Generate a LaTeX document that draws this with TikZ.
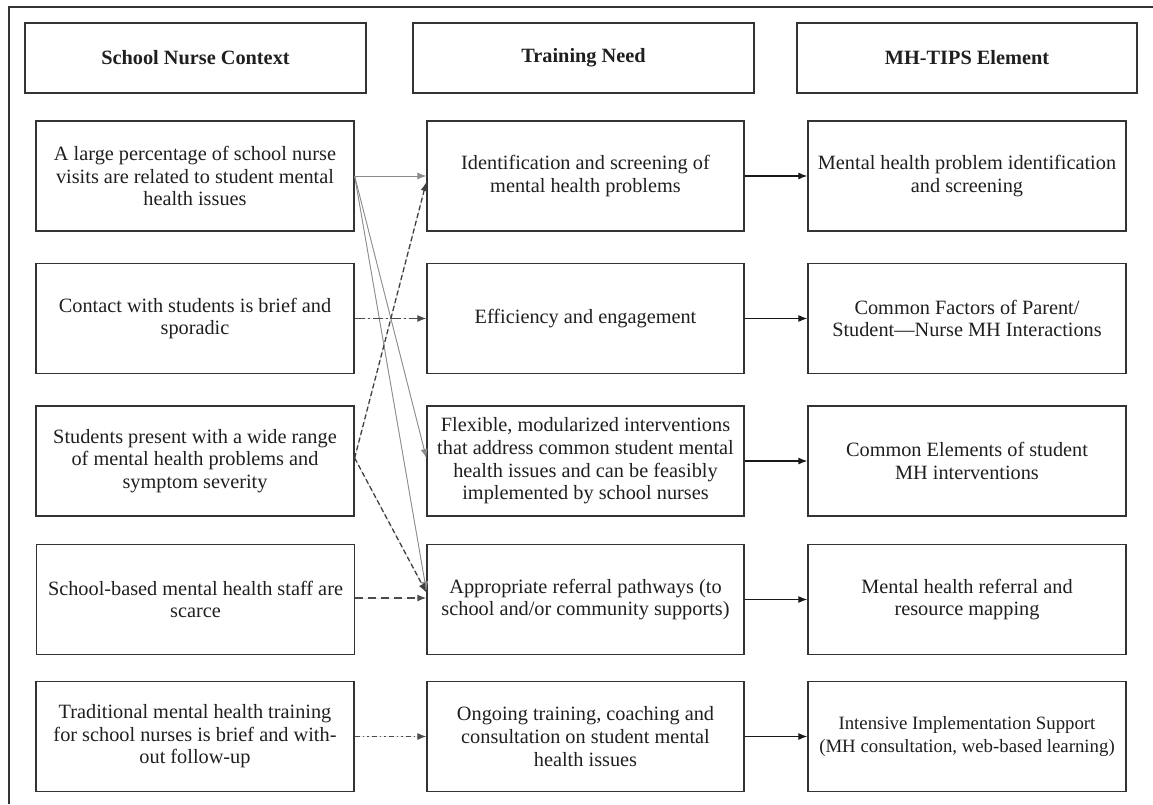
\documentclass[tikz,border=0pt]{standalone}
\usepackage{fontspec}
\setmainfont{Liberation Serif}
\usetikzlibrary{arrows.meta}
\begin{document}
\begin{tikzpicture}[x=1pt,y=-1pt,
  box/.style={draw=black!80, line width=1.3pt, align=center, inner sep=0pt,
    font=\fontsize{20.3}{22.6}\selectfont, text=black!88},
  hdr/.style={box, minimum width=341pt, minimum height=70pt,
    font=\fontsize{20.3}{22.6}\selectfont\bfseries},
  cell/.style={box, minimum width=318pt, minimum height=110pt},
  tip/.style={-{Latex[length=9pt,width=7pt]}},
  solidarr/.style={tip, line width=1.2pt, draw=black!90, fill=black!90},
  grayarr/.style={tip, line width=0.9pt, draw=black!45, fill=black!45},
  dasharr/.style={tip, line width=1.3pt, draw=black!75, fill=black!75, dash pattern=on 5pt off 3pt},
  longdasharr/.style={tip, line width=1.4pt, draw=black!70, fill=black!70, dash pattern=on 8pt off 5pt},
  dotdasharr/.style={tip, line width=1.2pt, draw=black!70, fill=black!70, dash pattern=on 10pt off 3pt on 2pt off 3pt},
  dotdotarr/.style={tip, line width=1.1pt, draw=black!70, fill=black!70, dash pattern=on 5pt off 3pt on 1.5pt off 3pt on 1.5pt off 3pt},
  frame/.style={line width=1.2pt, draw=black!80}
]
\useasboundingbox (0,0) rectangle (1153,804);
\draw[frame] (1153,7) -- (9,7) -- (9,804);

% headers
\node[hdr] (hL) at (195.5,58) {School Nurse Context};
\node[hdr] (hM) at (583.5,58) {Training Need};
\node[hdr, minimum width=340pt] (hR) at (967,58) {MH-TIPS Element};

% left column
\node[cell] (L1) at (195,176) {A large percentage of school nurse\\visits are related to student mental\\health issues};
\node[cell] (L2) at (195,318.5) {Contact with students is brief and\\sporadic};
\node[cell] (L3) at (195,461) {Students present with a wide range\\of mental health problems and\\symptom severity};
\node[cell] (L4) at (195.5,599.5) {School-based mental health staff are\\scarce};
\node[cell] (L5) at (195,736.5) {Traditional mental health training\\for school nurses is brief and with-\\out follow-up};

% middle column
\node[cell, minimum width=317pt] (M1) at (585.5,176) {Identification and screening of\\mental health problems};
\node[cell, minimum width=317pt] (M2) at (585.5,318.5) {Efficiency and engagement};
\node[cell, minimum width=317pt] (M3) at (585.5,461) {Flexible, modularized interventions\\that address common student mental\\health issues and can be feasibly\\implemented by school nurses};
\node[cell, minimum width=317pt] (M4) at (585.5,599.5) {Appropriate referral pathways (to\\school and/or community supports)};
\node[cell, minimum width=317pt] (M5) at (585.5,736.5) {Ongoing training, coaching and\\consultation on student mental\\health issues};

% right column
\node[cell] (R1) at (967,176) {Mental health problem identification\\and screening};
\node[cell] (R2) at (967,318.5) {Common Factors of Parent/\\Student---Nurse MH Interactions};
\node[cell] (R3) at (967,461) {Common Elements of student\\MH interventions};
\node[cell] (R4) at (967,599.5) {Mental health referral and\\resource mapping};
\node[cell, font=\fontsize{18.8}{22.6}\selectfont] (R5) at (967,736.5) {Intensive Implementation Support\\(MH consultation, web-based learning)};

% left -> middle connectors
\draw[grayarr] (L1.east) -- (M1.west);
\draw[grayarr] (L1.east) -- ([yshift=3pt]M3.west);
\draw[grayarr] (L1.east) -- ([yshift=9pt]M4.west);
\draw[dasharr] ([yshift=3pt]L3.east) -- ([yshift=-6pt]M1.west);
\draw[dasharr] ([yshift=3pt]L3.east) -- ([yshift=7pt]M4.west);
\draw[dotdasharr] (L2.east) -- (M2.west);
\draw[longdasharr] ([yshift=1.5pt]L4.east) -- ([yshift=1.5pt]M4.west);
\draw[dotdotarr] (L5.east) -- (M5.west);

% middle -> right connectors
\foreach \i in {1,...,5}{
  \draw[solidarr] (M\i.east) -- (R\i.west);
}
\end{tikzpicture}
\end{document}
